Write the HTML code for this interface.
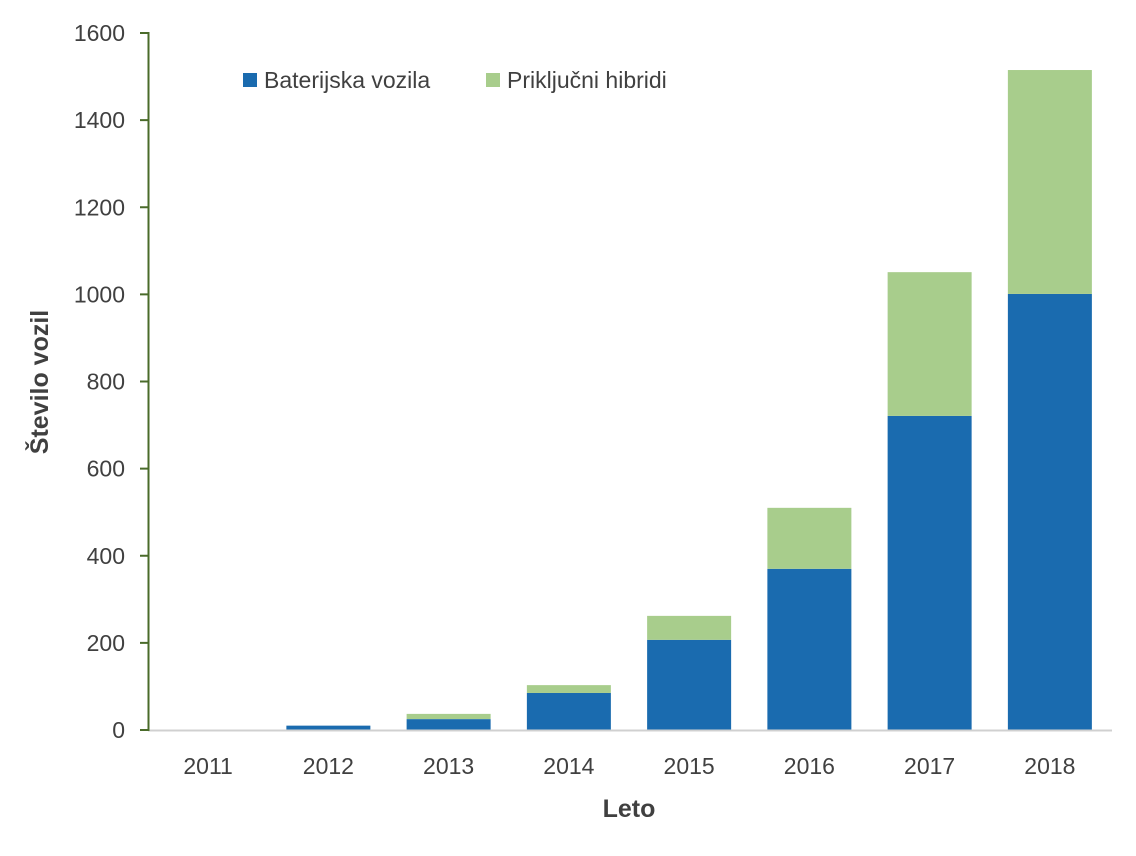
<!DOCTYPE html>
<html><head><meta charset="utf-8"><style>
body{margin:0;background:#fff;}
svg text{font-family:"Liberation Sans",sans-serif;fill:#404040;}
</style></head><body>
<svg id="chart" width="1136" height="851" viewBox="0 0 1136 851" xmlns="http://www.w3.org/2000/svg">
<g id="bars"></g>
<line x1="148" y1="730.5" x2="1112" y2="730.5" stroke="#d0d0d0" stroke-width="2"/>
<line x1="148.5" y1="32" x2="148.5" y2="731" stroke="#4a6b2a" stroke-width="2"/>
<g id="yticks"></g>
<g id="xticks"></g>
<text transform="translate(48,382) rotate(-90)" text-anchor="middle" font-size="25" font-weight="bold" style="font-stretch:condensed">Število vozil</text>
<text x="629" y="817" text-anchor="middle" font-size="25" font-weight="bold">Leto</text>
<g>
<rect x="243" y="73" width="14" height="14" fill="#1a6baf"/>
<text x="264" y="88" font-size="23">Baterijska vozila</text>
<rect x="486" y="73" width="14" height="14" fill="#a8cd8c"/>
<text x="507" y="88" font-size="23">Priključni hibridi</text>
</g>
</svg>
<script>
const categories=["2011","2012","2013","2014","2015","2016","2017","2018"];
const batteryValues=[0,10,25,85,207,370,721,1001];
const hybridValues=[0,0,12,18,55,140,330,514];
const yTickLabels=[0,200,400,600,800,1000,1200,1400,1600];
const NS="http://www.w3.org/2000/svg";
const x0=148,x1=1110,y0=730,yTop=33,yMax=1600;
const band=(x1-x0)/categories.length,barW=84;
function y(v){return y0-(v/yMax)*(y0-yTop);}
function xc(i){return x0+band*(i+0.5);}
const bars=document.getElementById('bars');
categories.forEach((c,i)=>{
 const b=batteryValues[i],h=hybridValues[i];
 const r1=document.createElementNS(NS,'rect');
 
 
 r1.setAttribute('x',xc(i)-barW/2);r1.setAttribute('width',barW);
 r1.setAttribute('y',y(b));r1.setAttribute('height',y(0)-y(b));r1.setAttribute('fill','#1a6baf');
 bars.appendChild(r1);
 const r2=document.createElementNS(NS,'rect');
 
 
 r2.setAttribute('x',xc(i)-barW/2);r2.setAttribute('width',barW);
 r2.setAttribute('y',y(b+h));r2.setAttribute('height',y(b)-y(b+h));r2.setAttribute('fill','#a8cd8c');
 bars.appendChild(r2);
 const t=document.createElementNS(NS,'text');
 
 
 t.setAttribute('x',xc(i));t.setAttribute('y',774);t.setAttribute('text-anchor','middle');t.setAttribute('font-size','23');
 t.textContent=c;document.getElementById('xticks').appendChild(t);
});
const yt=document.getElementById('yticks');
yTickLabels.forEach(v=>{
 const l=document.createElementNS(NS,'line');
 
 
 l.setAttribute('x1',140);l.setAttribute('x2',149);l.setAttribute('y1',y(v));l.setAttribute('y2',y(v));
 l.setAttribute('stroke','#4a6b2a');l.setAttribute('stroke-width','2');yt.appendChild(l);
 const t=document.createElementNS(NS,'text');
 
 
 t.setAttribute('x',125);t.setAttribute('y',y(v)+8);t.setAttribute('text-anchor','end');t.setAttribute('font-size','23');
 t.textContent=v;yt.appendChild(t);
});
</script>
</body></html>
